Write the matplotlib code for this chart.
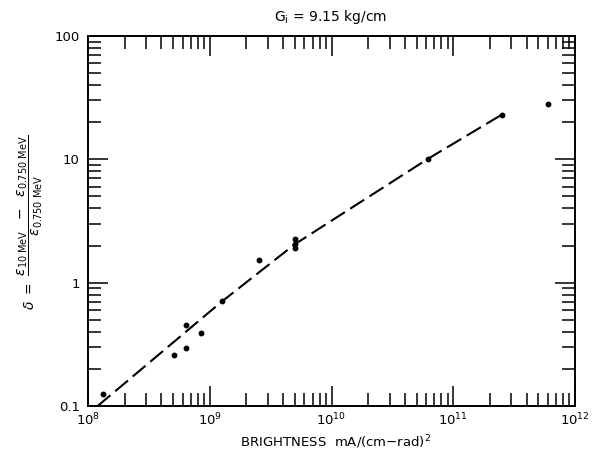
import matplotlib
matplotlib.use("Agg")
import matplotlib.pyplot as plt
from matplotlib.ticker import LogLocator, FixedLocator, FixedFormatter, NullFormatter

brightness = [1.32e8, 5.07e8, 6.35e8, 6.4e8, 8.4e8, 1.25e9, 2.52e9,
              5.0e9, 5.0e9, 5.0e9, 6.2e10, 2.5e11, 6.0e11]
delta = [0.126, 0.26, 0.294, 0.454, 0.393, 0.714, 1.53,
         1.9, 2.05, 2.25, 10.1, 22.9, 28.0]

# dashed trend curve
fit_x = [1.2e8, 1.25e9, 5.0e9, 6.2e10, 2.5e11]
fit_y = [0.1, 0.7, 2.05, 10.1, 23.0]

x_ticks = [1e8, 1e9, 1e10, 1e11, 1e12]
x_labels = [r"$\mathregular{10^{8}}$", r"$\mathregular{10^{9}}$", r"$\mathregular{10^{10}}$",
            r"$\mathregular{10^{11}}$", r"$\mathregular{10^{12}}$"]
y_ticks = [0.1, 1, 10, 100]
y_labels = ["0.1", "1", "10", "100"]

fig = plt.figure(figsize=(6.03, 4.53), dpi=100)
ax = fig.add_axes([88 / 603, 1 - 406 / 453, 487 / 603, 370 / 453])

ax.plot(fit_x, fit_y, color="black", linewidth=1.5, dashes=(8, 3))
ax.plot(brightness, delta, "o", color="black", markersize=3.2)

ax.set_xscale("log")
ax.set_yscale("log")
ax.set_xlim(1e8, 1e12)
ax.set_ylim(0.1, 100)

ax.xaxis.set_major_locator(FixedLocator(x_ticks))
ax.xaxis.set_major_formatter(FixedFormatter(x_labels))
ax.yaxis.set_major_locator(FixedLocator(y_ticks))
ax.yaxis.set_major_formatter(FixedFormatter(y_labels))
for axis in (ax.xaxis, ax.yaxis):
    axis.set_minor_locator(LogLocator(base=10, subs=range(2, 10), numticks=20))
    axis.set_minor_formatter(NullFormatter())

ax.tick_params(which="both", direction="in", top=True, right=True, width=1.1, labelsize=9.5)
ax.tick_params(which="major", length=14.5, pad=6)
ax.tick_params(axis="x", which="major", pad=4)
ax.tick_params(which="minor", length=9.5)
for s in ax.spines.values():
    s.set_linewidth(1.4)

fig.text(331 / 603, 1 - 17 / 453, r"G$_\mathregular{i}$ = 9.15 kg/cm", ha="center", va="center", fontsize=10)
fig.text(336 / 603, 1 - 442 / 453, r"BRIGHTNESS  mA/(cm$-$rad)$^2$", ha="center", va="center", fontsize=9.5)
fig.text(30 / 603, 1 - 222 / 453,
         r"$\delta\ =\ \dfrac{\epsilon_{10\ \mathrm{MeV}}\ \ -\ \ \epsilon_{0.750\ \mathrm{MeV}}}{\epsilon_{0.750\ \mathrm{MeV}}}$",
         rotation=90, ha="center", va="center", fontsize=10)

fig.savefig("out.png", dpi=100)
